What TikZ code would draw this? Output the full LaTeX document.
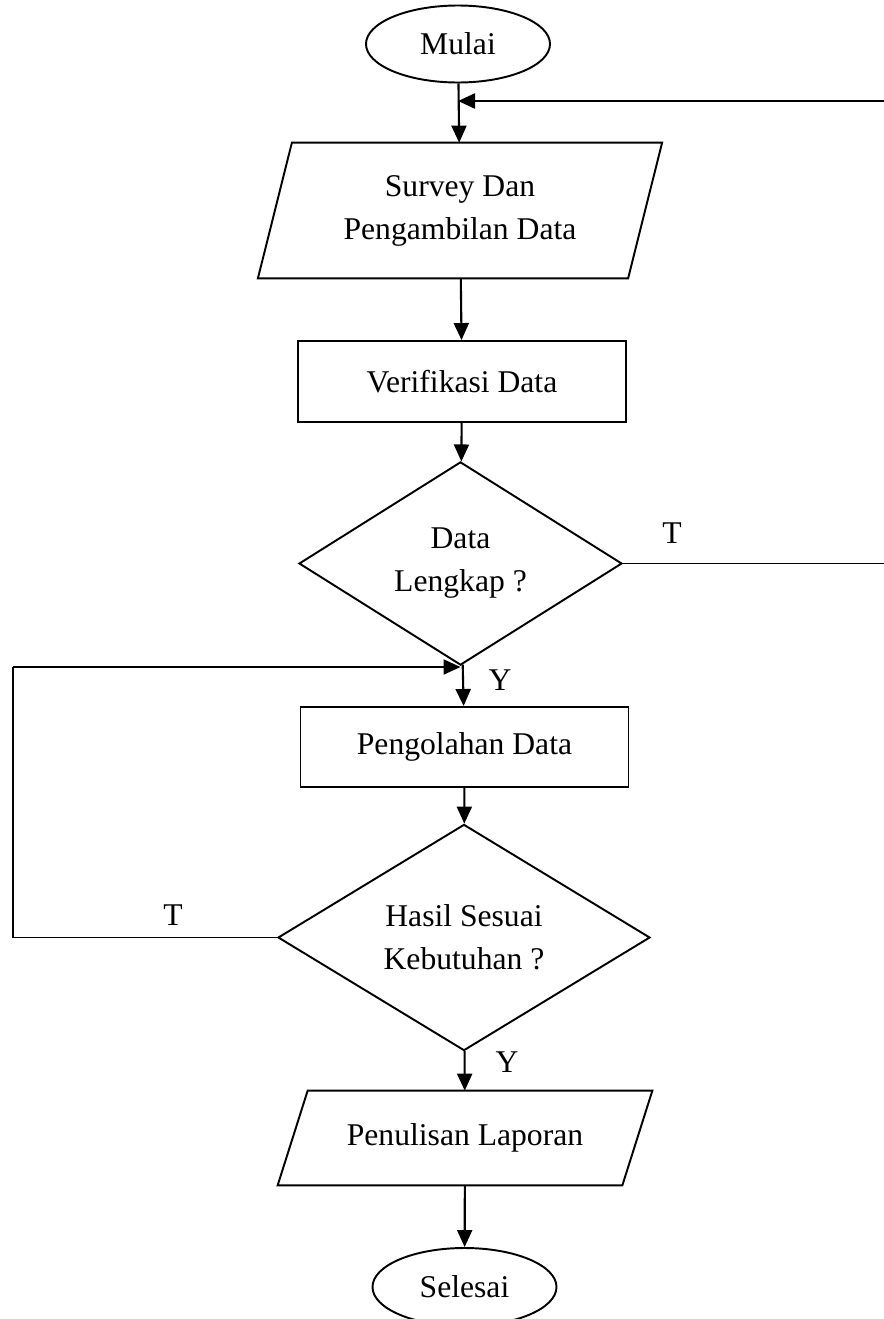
\documentclass[tikz,border=0pt]{standalone}
\usepackage{fontspec}
\setmainfont{Liberation Serif}
\usetikzlibrary{shapes.geometric, arrows.meta}

\begin{document}
\begin{tikzpicture}[
        font=\fontsize{18}{24.5}\selectfont,
        terminal/.style={
            ellipse, draw, line width=1.1pt,
            minimum width=3.68cm, minimum height=1.54cm, inner sep=0pt,
          },
        proses/.style={
            rectangle, draw, line width=1.1pt,
            minimum width=6.56cm, minimum height=1.62cm, inner sep=0pt,
          },
        keputusan/.style={
            diamond, draw, line width=1.1pt, align=center, inner sep=0pt,
          },
        masukan/.style={
            rectangle, align=center, inner sep=0pt,
          },
        bingkai/.style={line width=1.1pt, line join=miter},
        panah/.style={
            line width=1.2pt, -{Triangle[length=3.4mm, width=3.0mm]},
          },
        garis/.style={line width=0.8pt},
        ]
        \useasboundingbox (0, 0) rectangle (17.68, -26.38);

        \node[terminal] (mulai) at (9.16, -0.88) {Mulai};
        \node[masukan, minimum width=7.39cm, minimum height=2.70cm]
            (survey) at (9.20, -4.21) {Survey Dan\\Pengambilan Data};
        \node[proses] (verifikasi) at (9.24, -7.63) {Verifikasi Data};
        \node[keputusan, minimum width=6.46cm, minimum height=3.46cm]
            (lengkap) at (9.21, -11.27) {Data\\Lengkap ?};
        \node[proses, minimum height=1.60cm] (olah) at (9.29, -14.94) {Pengolahan Data};
        \node[keputusan, minimum width=7.44cm, minimum height=3.70cm]
            (sesuai) at (9.28, -18.75) {Hasil Sesuai\\Kebutuhan ?};
        \node[masukan, minimum width=6.88cm, minimum height=1.88cm]
            (laporan) at (9.30, -22.76) {\raisebox{0.12cm}{Penulisan Laporan}};
        \node[terminal, minimum height=1.56cm] (selesai) at (9.29, -25.74) {Selesai};

        % bentuk jajar genjang
        \draw[bingkai] ([xshift=0.34cm]survey.north west) -- ([xshift=0.34cm]survey.north east)
            -- ([xshift=-0.34cm]survey.south east) -- ([xshift=-0.34cm]survey.south west) -- cycle;
        \draw[bingkai] ([xshift=0.30cm]laporan.north west) -- ([xshift=0.30cm]laporan.north east)
            -- ([xshift=-0.30cm]laporan.south east) -- ([xshift=-0.30cm]laporan.south west) -- cycle;

        % jalur balik
        \coordinate (kanan1) at (17.70, -2.02);
        \coordinate (kanan2) at (17.70, -11.27);
        \coordinate (kiri1) at (0.26, -18.75);
        \coordinate (kiri2) at (0.26, -13.34);

        % label cabang
        \node (t1) at (13.44, -10.66) {T};
        \node (y1) at (10.00, -13.60) {Y};
        \node (t2) at (3.46, -18.30) {T};
        \node (y2) at (10.14, -21.24) {Y};

        \draw[panah] (mulai) -- (survey);
        \draw[panah] (survey) -- (verifikasi);
        \draw[panah] (verifikasi) -- (lengkap);
        \draw[panah] (lengkap) -- (olah);
        \draw[panah] (olah) -- (sesuai);
        \draw[panah] (sesuai) -- (laporan);
        \draw[panah] (laporan) -- (selesai);

        \draw[garis] (lengkap.east) -- (kanan2) -- (kanan1);
        \draw[panah] (kanan1) -- (mulai.south |- kanan1);
        \draw[garis] (sesuai.west) -- (kiri1) -- (kiri2);
        \draw[panah] (kiri2) -- (lengkap.south |- kiri2);
    \end{tikzpicture}
\end{document}
